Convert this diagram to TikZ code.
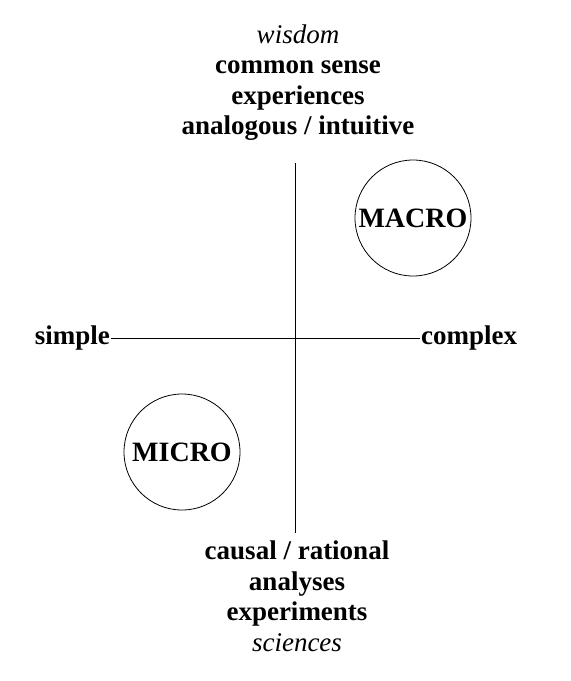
\documentclass[tikz,border=0pt]{standalone}
\usepackage{fontspec}
\setmainfont{Liberation Serif}
\usetikzlibrary{positioning}
\tikzset{l/.style={font=\fontsize{27}{31}\selectfont\bfseries, inner sep=1pt}}
\tikzset{t/.style={font=\fontsize{27}{30.5}\selectfont\bfseries, align=center, inner sep=0pt}}
\tikzset{c/.style={draw, circle, thick, minimum size=116pt, inner sep=0pt,
  font=\fontsize{28}{28}\selectfont\bfseries}}
\begin{document}
\begin{tikzpicture}[x=1pt,y=-1pt]
        \useasboundingbox (0,0) rectangle (571,681);
        \coordinate (up) at (295,163);
        \coordinate (down) at (295,533);
        \node[l, anchor=east] (S) at (111,338) {simple};
        \node[l, anchor=west] (C) at (420,338) {complex};
        \draw[thick] (S.east) -- (C.west);
        \draw[thick] (up) -- (down);
        \node[t, above=22pt of up, xshift=3pt] (W) {\textit{\mdseries wisdom}\\common sense\\experiences\\analogous / intuitive};
        \node[t, below=8pt of down, xshift=2pt] (R) {causal / rational\\analyses\\experiments\\\textit{\mdseries sciences}};
        \node[c] (MA) at (413,218) {MACRO};
        \node[c] (MI) at (182,452) {MICRO};
      \end{tikzpicture}
\end{document}
